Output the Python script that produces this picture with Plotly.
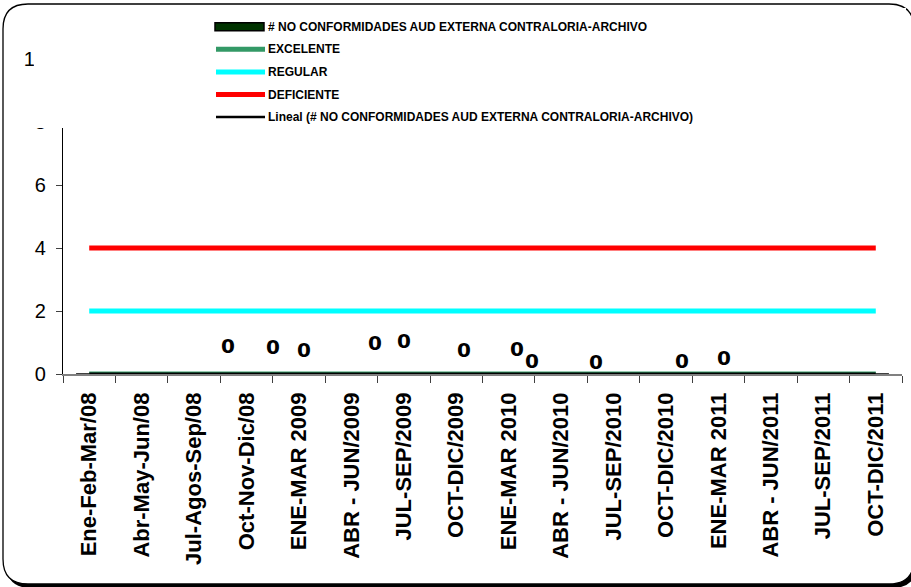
import numpy as np
import plotly.graph_objects as go

# Quarterly periods
categories = [
    "Ene-Feb-Mar/08", "Abr-May-Jun/08", "Jul-Agos-Sep/08", "Oct-Nov-Dic/08",
    "ENE-MAR 2009", "ABR - JUN/2009", "JUL-SEP/2009", "OCT-DIC/2009",
    "ENE-MAR 2010", "ABR - JUN/2010", "JUL-SEP/2010", "OCT-DIC/2010",
    "ENE-MAR 2011", "ABR - JUN/2011", "JUL-SEP/2011", "OCT-DIC/2011",
]

# Number of non-conformities found by the external audit (Contraloria)
no_conformidades = [0, 0, 0, 0, 0, 0, 0, 0, 0, 0, 0, 0, 0, 0, 0, 0]

# Reference thresholds
excelente = [0, 0, 0, 0, 0, 0, 0, 0, 0, 0, 0, 0, 0, 0, 0, 0]
regular = [2, 2, 2, 2, 2, 2, 2, 2, 2, 2, 2, 2, 2, 2, 2, 2]
deficiente = [4, 4, 4, 4, 4, 4, 4, 4, 4, 4, 4, 4, 4, 4, 4, 4]

y_ticks = [0, 2, 4, 6, 8, 10]

bar_name = "# NO CONFORMIDADES AUD EXTERNA CONTRALORIA-ARCHIVO"
trend_name = "Lineal (# NO CONFORMIDADES AUD EXTERNA CONTRALORIA-ARCHIVO)"

# Linear trend of the non-conformities series
idx = np.arange(len(categories))
slope, intercept = np.polyfit(idx, no_conformidades, 1)
tendencia = (slope * idx + intercept).tolist()

# Floating value labels: (category position, height above the axis, source category)
label_spots = [
    (2.64, 0.90, 3), (3.50, 0.85, 4), (4.10, 0.76, 4), (5.45, 0.97, 5),
    (6.00, 1.04, 6), (7.15, 0.76, 7), (8.16, 0.78, 8), (8.45, 0.42, 8),
    (9.66, 0.39, 10), (11.30, 0.41, 11), (12.11, 0.50, 12),
]

# Page geometry (pixels)
W, H = 911, 587
L, R, T, B = 63, 9, 59, 213
PW, PH = W - L - R, H - T - B


def px(x):
    return (x - L) / PW


def py(y):
    return (H - B - y) / PH


FONT = "Liberation Sans, Arial, sans-serif"

fig = go.Figure()
fig.add_trace(go.Bar(x=categories, y=no_conformidades, name=bar_name,
                     marker=dict(color="#003300", line=dict(color="black", width=1)),
                     showlegend=False))
fig.add_trace(go.Scatter(x=categories, y=excelente, name="EXCELENTE", mode="lines",
                         line=dict(color="#339966", width=5), showlegend=False))
fig.add_trace(go.Scatter(x=categories, y=regular, name="REGULAR", mode="lines",
                         line=dict(color="#00FFFF", width=5), showlegend=False))
fig.add_trace(go.Scatter(x=categories, y=deficiente, name="DEFICIENTE", mode="lines",
                         line=dict(color="#FF0000", width=5), showlegend=False))
fig.add_trace(go.Scatter(x=categories, y=tendencia, name=trend_name, mode="lines",
                         line=dict(color="black", width=3), showlegend=False))


def rounded_rect(x0, y0, x1, y1, r):
    a, b, c, d = px(x0), py(y0), px(x1), py(y1)
    rx, ry = r / PW, r / PH
    return (f"M {a + rx} {b} L {c - rx} {b} Q {c} {b} {c} {b - ry} "
            f"L {c} {d + ry} Q {c} {d} {c - rx} {d} L {a + rx} {d} "
            f"Q {a} {d} {a} {d + ry} L {a} {b - ry} Q {a} {b} {a + rx} {b} Z")


shapes = [
    # frame shadow and frame
    dict(type="path", xref="paper", yref="paper", layer="below",
         path=rounded_rect(6, 8, 917, 588, 25), fillcolor="black", line=dict(width=0)),
    dict(type="path", xref="paper", yref="paper", layer="below",
         path=rounded_rect(3, 4, 914, 584, 25), fillcolor="white",
         line=dict(color="black", width=1.3)),
    # legend area
    dict(type="rect", xref="paper", yref="paper", layer="above",
         x0=px(34), x1=px(906), y0=py(128), y1=py(8),
         fillcolor="white", line=dict(width=0)),
]

annotations = []

# Legend entries
legend_items = [
    (bar_name, "bar", "#003300", 8),
    ("EXCELENTE", "line", "#339966", 5),
    ("REGULAR", "line", "#00FFFF", 5),
    ("DEFICIENTE", "line", "#FF0000", 5),
    (trend_name, "line", "black", 2.5),
]
for i, (name, kind, color, w) in enumerate(legend_items):
    yc = 26.7 + 22.6 * i
    if kind == "bar":
        shapes.append(dict(type="rect", xref="paper", yref="paper", layer="above",
                           x0=px(215), x1=px(264), y0=py(yc + 4), y1=py(yc - 4),
                           fillcolor=color, line=dict(color="black", width=1.5)))
    else:
        shapes.append(dict(type="line", xref="paper", yref="paper", layer="above",
                           x0=px(216), x1=px(265), y0=py(yc), y1=py(yc),
                           line=dict(color=color, width=w)))
    annotations.append(dict(text=f"<b>{name}</b>", xref="paper", yref="paper",
                            x=px(266), y=py(yc), xanchor="left", yanchor="middle",
                            showarrow=False, font=dict(family=FONT, size=12, color="black")))

# Value labels
for xpos, yoff, cat in label_spots:
    annotations.append(dict(text=f"<b>{no_conformidades[cat]}</b>", x=xpos,
                            y=no_conformidades[cat] + yoff, xref="x", yref="y",
                            showarrow=False, xanchor="center", yanchor="middle",
                            font=dict(family="DejaVu Sans, sans-serif", size=20, color="black")))

fig.update_layout(
    width=W, height=H,
    margin=dict(l=L, r=R, t=T, b=B, pad=0),
    paper_bgcolor="white", plot_bgcolor="rgba(0,0,0,0)",
    showlegend=False, bargap=0.5,
    shapes=shapes, annotations=annotations,
    font=dict(family=FONT, color="black"),
)
fig.update_xaxes(
    type="category", range=[-0.5, len(categories) - 0.5],
    showline=True, linecolor="#808080", linewidth=1.5,
    ticks="outside", ticklen=7, tickcolor="#404040", tickwidth=1.2,
    tickson="boundaries", tickangle=-90,
    tickfont=dict(family=FONT, size=22, color="black", weight="bold"),
    ticklabelstandoff=8,
    showgrid=False, zeroline=False,
)
fig.update_yaxes(
    range=[0, 10], tickvals=y_ticks,
    showline=True, linecolor="black", linewidth=1.2,
    ticks="outside", ticklen=6, tickcolor="#404040", tickwidth=1.2,
    tickfont=dict(family=FONT, size=20, color="black"),
    ticklabelstandoff=6,
    showgrid=False, zeroline=False,
)

fig.write_html("out.html")
